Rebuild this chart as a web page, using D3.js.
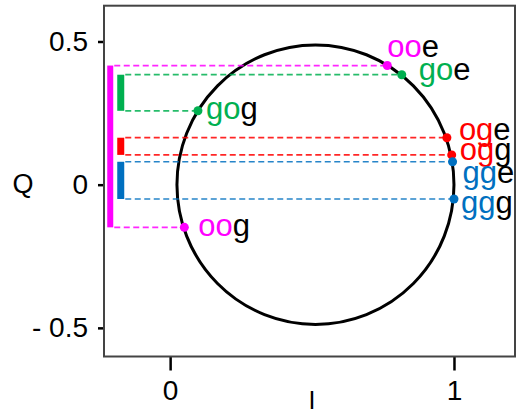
<!DOCTYPE html>
<html>
<head>
<meta charset="utf-8">
<script src="https://cdn.jsdelivr.net/npm/d3@7"></script>
<style>
  body { margin: 0; background: #fff; }
  text { font-family: "Liberation Sans", Arial, sans-serif; }
</style>
</head>
<body>
<script>
// points on the circle
var pointNames = ["ooe", "goe", "oge", "ogg", "gge", "ggg", "gog", "oog"];
var pointI = [0.765, 0.816, 0.975, 0.992, 0.995, 1.0, 0.098, 0.050];
var pointQ = [0.416, 0.384, 0.164, 0.104, 0.080, -0.050, 0.258, -0.149];
var pointGroup = ["oo", "go", "og", "og", "gg", "gg", "go", "oo"];
// label offsets from the point (px)
var labelDx = [0, 17, 12, 8, 10, 7, 8, 14];
var labelDy = [-9, 5, 2, 5, 21, 14, 8, 9];

var groupNames = ["oo", "go", "og", "gg"];
var groupColors = ["#ff00ff", "#00b050", "#ff0000", "#0070c0"];
var groupBarI = [-0.211, -0.174, -0.174, -0.174];

var circleCenter = [0.512, 0];
var circleRadius = 0.488;

var xTicks = [0, 1];
var yTicks = [0.5, 0, -0.5];
var yTickLabels = ["0.5", "0", "- 0.5"];

var width = 521, height = 416;
var plotL = 104, plotR = 515, plotT = 5.7, plotB = 356.5;

var svg = d3.select("body").append("svg").attr("width", width).attr("height", height);

var x = d3.scaleLinear().domain([-0.233, 1.215]).range([plotL, plotR]);
var y = d3.scaleLinear().domain([-0.6, 0.625]).range([plotB, plotT]);

var color = d3.scaleOrdinal().domain(groupNames).range(groupColors);
var barI = d3.scaleOrdinal().domain(groupNames).range(groupBarI);

// axes
var xAxis = d3.axisBottom(x).tickValues(xTicks).tickFormat(d3.format("d")).tickSize(14).tickPadding(6);
var yAxis = d3.axisLeft(y).tickValues(yTicks).tickFormat((d, i) => yTickLabels[i]).tickSize(6).tickPadding(10);

var gx = svg.append("g").attr("transform", "translate(0," + plotB + ")").call(xAxis);
var gy = svg.append("g").attr("transform", "translate(" + plotL + ",0)").call(yAxis);
[gx, gy].forEach(g => {
  g.attr("font-size", 28).attr("font-family", null);
  g.select(".domain").remove();
  g.selectAll(".tick line").attr("stroke", "#000").attr("stroke-width", 2.5);
  g.selectAll(".tick text").attr("fill", "#000");
});
gx.selectAll(".tick text").attr("dy", "0.85em");

// frame
svg.append("rect")
    .attr("x", plotL).attr("y", plotT)
    .attr("width", plotR - plotL).attr("height", plotB - plotT)
    .attr("fill", "none").attr("stroke", "#444").attr("stroke-width", 2);

// circle
svg.append("ellipse")
    .attr("cx", x(circleCenter[0]))
    .attr("cy", y(circleCenter[1]))
    .attr("rx", x(circleCenter[0] + circleRadius) - x(circleCenter[0]))
    .attr("ry", y(circleCenter[1]) - y(circleCenter[1] + circleRadius))
    .attr("fill", "none").attr("stroke", "#000").attr("stroke-width", 3);

var points = pointNames.map((n, i) => ({name: n, I: pointI[i], Q: pointQ[i], group: pointGroup[i], dx: labelDx[i], dy: labelDy[i]}));

// bars at the left
var barW = g => g === "oo" ? 6 : 7;
groupNames.forEach(gname => {
  var qs = points.filter(p => p.group === gname).map(p => p.Q);
  svg.append("rect")
      .attr("x", x(barI(gname)) - barW(gname) / 2)
      .attr("y", y(d3.max(qs)))
      .attr("width", barW(gname))
      .attr("height", y(d3.min(qs)) - y(d3.max(qs)))
      .attr("fill", color(gname));
});

// dashed guides
svg.selectAll("line.guide")
    .data(points)
    .enter().append("line")
    .attr("class", "guide")
    .attr("x1", d => x(barI(d.group)) + barW(d.group) / 2 + 1)
    .attr("x2", d => x(d.I))
    .attr("y1", d => y(d.Q))
    .attr("y2", d => y(d.Q))
    .attr("stroke", d => color(d.group))
    .attr("stroke-opacity", 0.85)
    .attr("stroke-width", 1.7)
    .attr("stroke-dasharray", "6,3.5");

// points
svg.selectAll("circle.pt")
    .data(points)
    .enter().append("circle")
    .attr("class", "pt")
    .attr("cx", d => x(d.I))
    .attr("cy", d => y(d.Q))
    .attr("r", 4.5)
    .attr("fill", d => color(d.group));

// labels
var labels = svg.selectAll("text.lbl")
    .data(points)
    .enter().append("text")
    .attr("class", "lbl")
    .attr("x", d => x(d.I) + d.dx)
    .attr("y", d => y(d.Q) + d.dy)
    .attr("font-size", 31);
labels.append("tspan").attr("fill", d => color(d.group)).text(d => d.name.slice(0, 2));
labels.append("tspan").attr("fill", "#000").text(d => d.name.slice(2));

// axis titles
svg.append("text").attr("x", 23).attr("y", 193).attr("text-anchor", "middle")
    .attr("font-size", 27).text("Q");
svg.append("text").attr("x", 312).attr("y", 409).attr("text-anchor", "middle")
    .attr("font-size", 25).text("I");
</script>
</body>
</html>
